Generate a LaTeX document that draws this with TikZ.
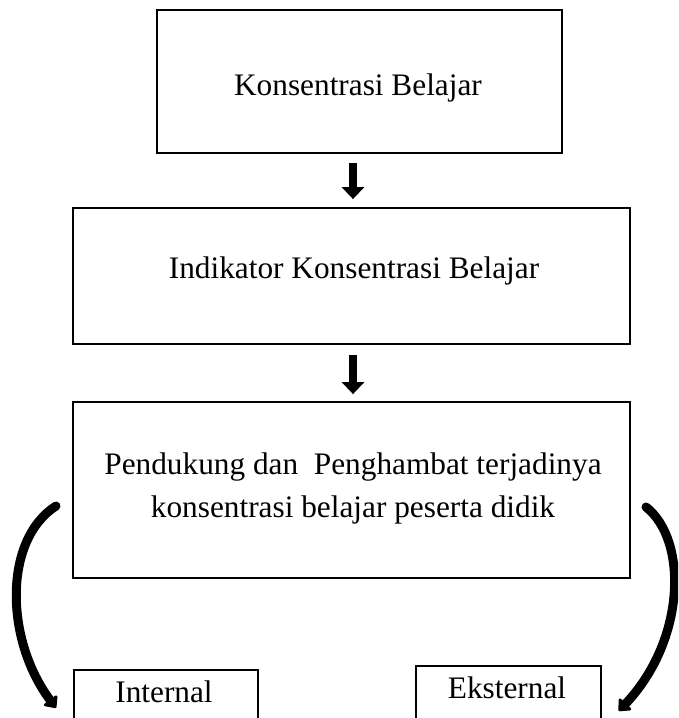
\documentclass[tikz,border=0pt]{standalone}
\usepackage{fontspec}
\setmainfont{Liberation Serif}
\usetikzlibrary{arrows.meta,calc}
\begin{document}
\begin{tikzpicture}[x=1pt,y=-1pt,
  box/.style={draw,line width=1.8pt,inner sep=0pt},
  txt/.style={inner sep=0pt,font=\fontsize{31.3}{43}\selectfont,align=center},
  downarrow/.style={line width=8pt,-{Triangle[width=22pt,length=12pt]}},
  curvearrow/.style={line width=9pt,line cap=round,-{Triangle[width=19pt,length=11pt,round]}}]
\clip (0,0) rectangle (678,718);
% boxes
\node[box,minimum width=405pt,minimum height=143pt] (b1) at (359.5,81.5) {};
\node[box,minimum width=557pt,minimum height=136pt] (b2) at (351.5,276) {};
\node[box,minimum width=557pt,minimum height=176pt] (b3) at (351.5,490) {};
\node[box,minimum width=184pt,minimum height=80pt,anchor=north west] (b4) at (73,669) {};
\node[box,minimum width=185pt,minimum height=80pt,anchor=north west] (b5) at (415,665) {};
% texts
\node[txt] (t1) at (358,88) {Konsentrasi Belajar};
\node[txt] (t2) at (354,271) {Indikator Konsentrasi Belajar};
\node[txt] (t3) at (353,488) {Pendukung dan\ \ Penghambat terjadinya\\konsentrasi belajar peserta didik};
\node[txt] (t4) at (164,692) {Internal};
\node[txt] (t5) at (507,688) {Eksternal};
% straight arrows
\draw[downarrow] ($(b1.south)+(-6.5,9)$) -- ($(b2.north)+(1.5,-8)$);
\draw[downarrow] ($(b2.south)+(1.5,10)$) -- ($(b3.north)+(1.5,-7)$);
% curved arrows
\coordinate (l0) at (56,506);
\coordinate (r0) at (646,507);
\draw[curvearrow] (l0) .. controls (3,540) and (5,640) .. ($(b4.west)+(-17,-2)$);
\draw[curvearrow] (r0) .. controls (688,540) and (686,640) .. ($(b5.east)+(17,5)$);
\end{tikzpicture}
\end{document}
